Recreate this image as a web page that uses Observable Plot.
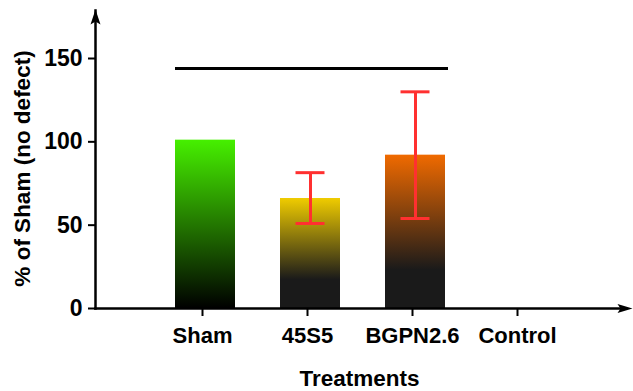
<!DOCTYPE html>
<html>
<head>
<meta charset="utf-8">
<script src="https://cdn.jsdelivr.net/npm/d3@7"></script>
<script src="https://cdn.jsdelivr.net/npm/@observablehq/plot@0.6"></script>
<style>
  html, body { margin: 0; padding: 0; background: #fff; }
  #chart svg { display: block; }
</style>
</head>
<body>
<div id="chart"></div>
<script>
// ---- data ----
const treatments = ["Sham", "45S5", "BGPN2.6", "Control"];
const means = [101, 66, 92, null];
const errLow = [null, 51, 54, null];
const errHigh = [null, 81.5, 130, null];
const yTicks = [0, 50, 100, 150];
const sigFrom = "Sham";
const sigTo = "BGPN2.6";
const sigValue = 144;
const yLabel = "% of Sham (no defect)";
const xLabel = "Treatments";

// ---- styles (gradient colours per bar) ----
const gradTop = ["#46f000", "#f0cc00", "#f06a00"];
const gradBottom = ["#000000", "#1a1a1a", "#1a1a1a"];
const gradDarkAt = [1.0, 0.74, 0.75];

const bars = treatments.map((t, i) => ({t, v: means[i], idx: i})).filter(d => d.v != null);
const errs = treatments.map((t, i) => ({t, lo: errLow[i], hi: errHigh[i]})).filter(d => d.lo != null);

const font = "'Liberation Sans', Arial, Helvetica, sans-serif";

const arrowUp = {draw(ctx) {
  ctx.moveTo(0, -1); ctx.lineTo(5, 14); ctx.lineTo(0, 11); ctx.lineTo(-5, 14); ctx.closePath();
}};
const arrowRight = {draw(ctx) {
  ctx.moveTo(9, 0); ctx.lineTo(-6, -4.5); ctx.lineTo(-3, 0); ctx.lineTo(-6, 4.5); ctx.closePath();
}};

const dxBar = 3;

const chart = Plot.plot({
  width: 633,
  height: 391,
  marginLeft: 95,
  marginRight: 10,
  marginTop: 10,
  marginBottom: 83,
  style: {fontFamily: font, fontWeight: "bold", fontSize: "22px", color: "#000", background: "#fff"},
  x: {domain: treatments, type: "band", paddingInner: 0.432, paddingOuter: 0.715},
  y: {domain: [0, 178.8]},
  color: {type: "identity"},
  marks: [
    Plot.barY(bars, {x: "t", y: "v", fill: d => `url(#grad-${d.idx})`, dx: dxBar}),
    Plot.ruleX(errs, {x: "t", y1: "lo", y2: "hi", stroke: "#ff3030", strokeWidth: 3, dx: dxBar}),
    Plot.tickY(errs, {x: "t", y: "lo", stroke: "#ff3030", strokeWidth: 3, insetLeft: 15.5, insetRight: 15.5, dx: dxBar}),
    Plot.tickY(errs, {x: "t", y: "hi", stroke: "#ff3030", strokeWidth: 3, insetLeft: 15.5, insetRight: 15.5, dx: dxBar}),
    Plot.ruleY([{from: sigFrom, to: sigTo, y: sigValue}], {y: "y", x1: "from", x2: "to", stroke: "#000", strokeWidth: 3, dx: dxBar, insetRight: -3}),
    Plot.axisY({ticks: yTicks, tickSize: 7, tickPadding: 6, strokeWidth: 2, label: null, fontSize: 23, fontWeight: "bold"}),
    Plot.axisX({tickSize: 8, tickPadding: 11, strokeWidth: 2, label: null, fontSize: 22, fontWeight: "bold"}),
    Plot.frame({anchor: "left", strokeWidth: 2.5}),
    Plot.frame({anchor: "bottom", strokeWidth: 2.5}),
    Plot.dot([0], {frameAnchor: "top-left", symbol: arrowUp, fill: "#000", stroke: "none"}),
    Plot.dot([0], {frameAnchor: "bottom-right", symbol: arrowRight, fill: "#000", stroke: "none"}),
    Plot.text([yLabel], {text: d => d, frameAnchor: "left", textAnchor: "middle", rotate: -90, dx: -73, dy: 9, fontSize: 22.5, fontWeight: "bold"}),
    Plot.text([xLabel], {text: d => d, frameAnchor: "bottom", textAnchor: "middle", dy: 77, fontSize: 22.5, fontWeight: "bold"})
  ]
});

// gradient definitions
const ns = "http://www.w3.org/2000/svg";
const defs = document.createElementNS(ns, "defs");
gradTop.forEach((c, i) => {
  const g = document.createElementNS(ns, "linearGradient");
  g.setAttribute("id", `grad-${i}`);
  g.setAttribute("x1", "0"); g.setAttribute("y1", "0");
  g.setAttribute("x2", "0"); g.setAttribute("y2", "1");
  [[0, c], [gradDarkAt[i], gradBottom[i]], [1, gradBottom[i]]].forEach(([o, col]) => {
    const s = document.createElementNS(ns, "stop");
    s.setAttribute("offset", o);
    s.setAttribute("stop-color", col);
    g.appendChild(s);
  });
  defs.appendChild(g);
});
chart.insertBefore(defs, chart.firstChild);
document.getElementById("chart").appendChild(chart);
</script>
</body>
</html>
